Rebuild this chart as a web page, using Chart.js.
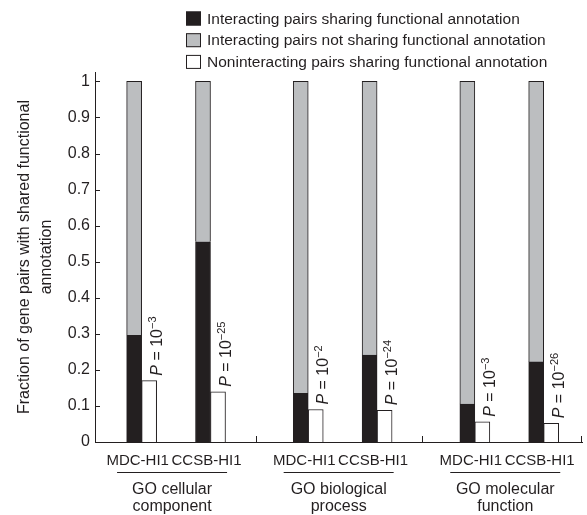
<!DOCTYPE html>
<html>
<head>
<meta charset="utf-8">
<script src="https://cdn.jsdelivr.net/npm/chart.js@4"></script>
<style>
  html, body { margin: 0; padding: 0; background: #fff; }
  canvas { display: block; }
</style>
</head>
<body>
<canvas id="myChart" width="587" height="515"></canvas>
<script>
// ---- data ----
const categories = ["MDC-HI1", "CCSB-HI1", "MDC-HI1", "CCSB-HI1", "MDC-HI1", "CCSB-HI1"];
const groupNames = [["GO cellular", "component"], ["GO biological", "process"], ["GO molecular", "function"]];
const seriesLabels = [
  "Interacting pairs sharing functional annotation",
  "Interacting pairs not sharing functional annotation",
  "Noninteracting pairs sharing functional annotation",
];
const sharedInteracting = [0.296, 0.555, 0.135, 0.241, 0.105, 0.222];
const notSharedInteracting = [0.704, 0.445, 0.865, 0.759, 0.895, 0.778];
const sharedNoninteracting = [0.170, 0.139, 0.090, 0.088, 0.056, 0.052];
const pExponents = ["\u22123", "\u221225", "\u22122", "\u221224", "\u22123", "\u221226"];
const yMax = 1.026;

// ---- styles / layout ----
const ink = "#231f20";
const grey = "#bcbec0";
const family = "'Liberation Sans', Arial, Helvetica, sans-serif";
Chart.defaults.font.family = family;
Chart.defaults.color = ink;

const groupSize = 2, groupSpan = 3, slotOffset = [0.93, 2.17];
const xPos = categories.map((c, i) => Math.floor(i / groupSize) * groupSpan + slotOffset[i % groupSize]);
const pts = arr => arr.map((v, i) => ({ x: xPos[i], y: v }));

const annotate = {
  id: "annotate",
  afterDraw(chart) {
    const ctx = chart.ctx;
    const xs = chart.scales.x, ys = chart.scales.y;
    const area = chart.chartArea;
    ctx.save();
    ctx.strokeStyle = ink;
    ctx.fillStyle = ink;
    ctx.lineWidth = 1;

    // inward tick marks
    ctx.beginPath();
    ys.ticks.forEach(t => {
      const py = Math.round(ys.getPixelForValue(t.value)) + 0.5;
      ctx.moveTo(area.left, py);
      ctx.lineTo(area.left + 5, py);
    });
    const sep = [];
    for (let g = 1; g < groupNames.length; g++) sep.push(Math.round(xs.getPixelForValue(g * groupSpan)) - 0.5);
    sep.push(Math.round(area.right) - 0.5);
    sep.forEach(px => {
      ctx.moveTo(px, area.bottom);
      ctx.lineTo(px, area.bottom - 6);
    });
    ctx.stroke();

    // P value labels above the white bars
    const white = chart.getDatasetMeta(2).data;
    white.forEach((bar, i) => {
      const right = bar.x + bar.width / 2;
      ctx.save();
      ctx.translate(right, bar.y - 5);
      ctx.rotate(-Math.PI / 2);
      ctx.textBaseline = "alphabetic";
      ctx.textAlign = "left";
      ctx.font = "italic 16px " + family;
      ctx.fillText("P", 0, 5);
      let w = ctx.measureText("P").width;
      ctx.font = "16px " + family;
      ctx.fillText(" = 10", w, 5);
      w += ctx.measureText(" = 10").width;
      ctx.font = "11px " + family;
      ctx.fillText(pExponents[i], w, -1);
      ctx.restore();
    });

    // category labels, underline and group names
    ctx.textAlign = "center";
    ctx.textBaseline = "alphabetic";
    ctx.font = "15px " + family;
    const labelX = xPos.map(v => xs.getPixelForValue(v) - 4);
    categories.forEach((c, i) => ctx.fillText(c, labelX[i], 465));
    ctx.font = "16px " + family;
    groupNames.forEach((lines, g) => {
      const cx = (labelX[g * groupSize] + labelX[g * groupSize + 1]) / 2;
      ctx.beginPath();
      ctx.moveTo(cx - 55, 472.5);
      ctx.lineTo(cx + 55, 472.5);
      ctx.stroke();
      lines.forEach((t, k) => ctx.fillText(t, cx, 494 + k * 17));
    });

    // legend
    ctx.textAlign = "left";
    ctx.textBaseline = "middle";
    ctx.font = "15.5px " + family;
    chart.data.datasets.forEach((ds, i) => {
      const cy = 18.5 + i * 21.7;
      ctx.fillStyle = ds.backgroundColor;
      ctx.fillRect(186, cy - 7, 15, 14);
      ctx.strokeStyle = ink;
      ctx.strokeRect(186.5, cy - 6.5, 14, 13);
      ctx.fillStyle = ink;
      ctx.fillText(ds.label, 207, cy + 1);
    });
    ctx.restore();
  },
};

const ctx = document.getElementById("myChart").getContext("2d");
const myChart = new Chart(ctx, {
  type: "bar",
  data: {
    datasets: [
      {
        label: seriesLabels[0],
        data: pts(sharedInteracting),
        backgroundColor: ink,
        borderColor: ink,
        borderWidth: 1,
        stack: "interacting",
        barThickness: 15,
      },
      {
        label: seriesLabels[1],
        data: pts(notSharedInteracting),
        backgroundColor: grey,
        borderColor: ink,
        borderWidth: 1,
        stack: "interacting",
        barThickness: 15,
      },
      {
        label: seriesLabels[2],
        data: pts(sharedNoninteracting),
        backgroundColor: "#ffffff",
        borderColor: ink,
        borderWidth: 1,
        stack: "noninteracting",
        barThickness: 15,
      },
    ],
  },
  options: {
    responsive: false,
    animation: false,
    devicePixelRatio: 1,
    layout: { padding: { top: 72, right: 5, left: 0, bottom: 0 } },
    plugins: {
      legend: { display: false },
      tooltip: { enabled: false },
    },
    scales: {
      x: {
        type: "linear",
        min: 0.09,
        max: 8.86,
        offset: false,
        grid: { display: false, drawTicks: false },
        border: { display: true, color: ink, width: 1 },
        ticks: { display: false },
        afterFit: s => { s.height = 73; },
      },
      y: {
        stacked: true,
        min: 0,
        max: yMax,
        grid: { display: false, drawTicks: false },
        border: { display: true, color: ink, width: 1 },
        ticks: {
          stepSize: 0.1,
          includeBounds: false,
          padding: 5,
          color: ink,
          font: { size: 16 },
          callback: v => String(Math.round(v * 10) / 10),
        },
        title: {
          display: true,
          text: ["Fraction of gene pairs with shared functional", "annotation"],
          color: ink,
          font: { size: 16, lineHeight: 1.375 },
          padding: { top: 14, bottom: 0 },
        },
        afterFit: s => { s.width = 95; },
      },
    },
  },
  plugins: [annotate],
});
</script>
</body>
</html>
